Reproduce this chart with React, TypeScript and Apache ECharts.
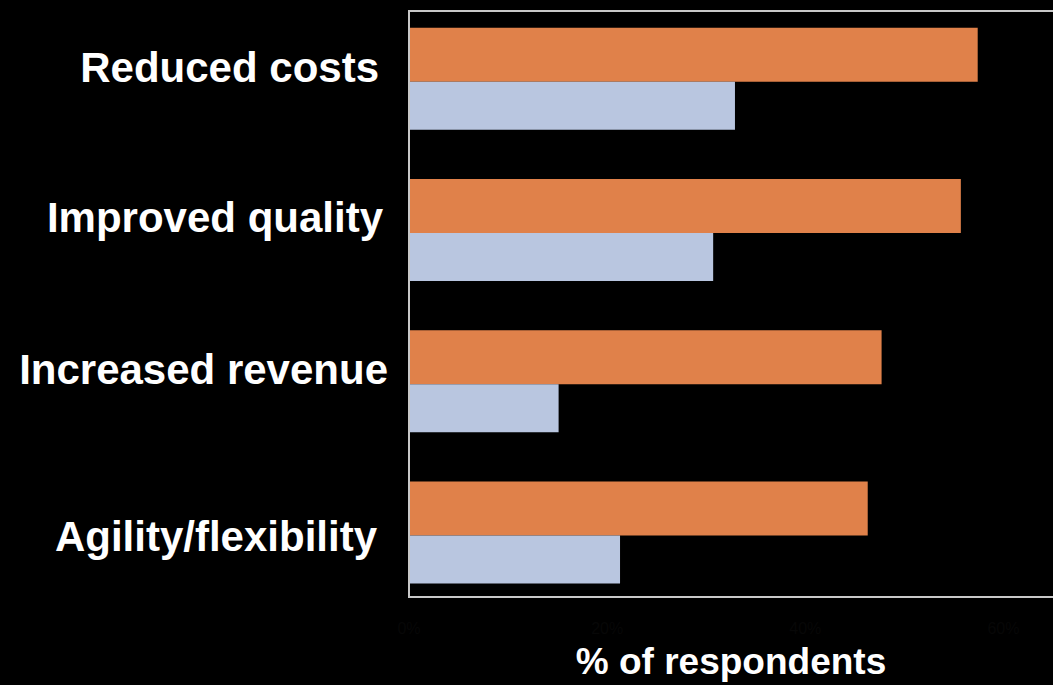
import React, { useEffect, useRef } from "react";
import * as echarts from "echarts";

const categories = ["Reduced costs", "Improved quality", "Increased revenue", "Agility/flexibility"];
const seriesNames = ["Series 1", "Series 2"];
const orangeValues = [57.4, 55.7, 47.7, 46.3];
const blueValues = [32.9, 30.7, 15.1, 21.3];
const xTicks = [0, 20, 40, 60];
const axisTitle = "% of respondents";

// per-label fine offsets [padTop, padRight, padBottom]
const labelPads: number[][] = [
  [0, 9, 22],
  [0, 5, 24],
  [0, 0, 24],
  [8, 11, 0],
];

export default function App() {
  const ref = useRef<HTMLDivElement>(null);
  useEffect(() => {
    if (!ref.current) return;
    const chart = echarts.init(ref.current, null, { renderer: "svg" });
    const rich: Record<string, any> = {};
    categories.forEach((_, i) => {
      const p = labelPads[i];
      rich["c" + i] = {
        color: "#ffffff",
        fontFamily: "'Liberation Sans', Arial, sans-serif",
        fontWeight: "bold",
        fontSize: 42,
        lineHeight: 42,
        padding: [p[0], p[1], p[2], 0],
      };
    });
    chart.setOption({
      animation: false,
      backgroundColor: "#000000",
      grid: { left: 409, right: 0, top: 3, bottom: 75, containLabel: false },
      graphic: [
        {
          type: "rect",
          shape: { x: 409, y: 11, width: 700, height: 586 },
          style: { fill: "none", stroke: "#c8c8c8", lineWidth: 2 },
          z: 10,
        },
      ],
      xAxis: {
        type: "value",
        min: 0,
        max: 65,
        interval: 20,
        name: axisTitle,
        nameLocation: "middle",
        nameGap: 35,
        nameTextStyle: {
          color: "#ffffff",
          fontFamily: "'Liberation Sans', Arial, sans-serif",
          fontWeight: "bold",
          fontSize: 37,
        },
        axisLine: { show: false },
        axisTick: { show: false },
        splitLine: { show: false },
        axisLabel: {
          showMaxLabel: false,
          margin: 12,
          color: "#070707",
          fontFamily: "'Liberation Sans', Arial, sans-serif",
          fontSize: 16,
          formatter: (v: number) => (xTicks.includes(v) ? v + "%" : ""),
        },
      },
      yAxis: {
        type: "category",
        data: categories,
        inverse: true,
        axisLine: { show: false },
        axisTick: { show: false },
        splitLine: { show: false },
        axisLabel: {
          margin: 21,
          formatter: (v: string) => {
            const i = categories.indexOf(v);
            return "{c" + i + "|" + v + "}";
          },
          rich,
        },
      },
      series: [
        {
          name: seriesNames[0],
          type: "bar",
          data: orangeValues,
          barWidth: 54,
          barGap: "0%",
          itemStyle: { color: "#E0814A" },
        },
        {
          name: seriesNames[1],
          type: "bar",
          data: blueValues,
          barWidth: 48,
          barGap: "0%",
          itemStyle: { color: "#B9C6E0" },
        },
      ],
    });
    return () => chart.dispose();
  }, []);
  return (
    <div
      ref={ref}
      style={{ position: "fixed", left: 0, top: 0, width: 1053, height: 685, background: "#000" }}
    />
  );
}
